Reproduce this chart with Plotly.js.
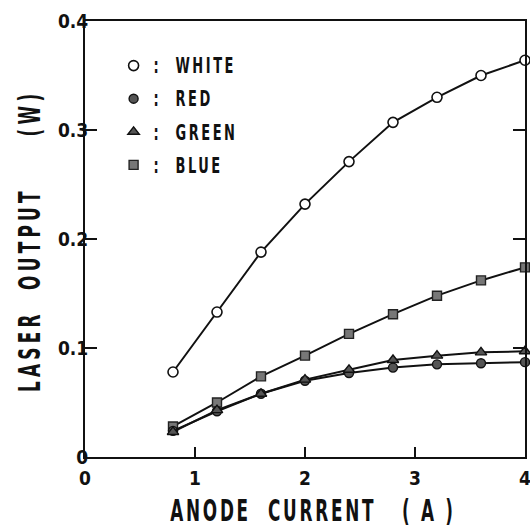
<!DOCTYPE html>
<html>
<head>
<meta charset="utf-8">
<script src="https://cdn.plot.ly/plotly-3.0.1.min.js"></script>
<style>
  html, body { margin: 0; padding: 0; background: #fff; }
  #chart { width: 530px; height: 528px; }
  .xtitle { letter-spacing: 3.5px; transform-box: fill-box; transform-origin: center; transform: translate(8px, 1px) scale(0.78, 1.25); }
  .ytitle { letter-spacing: 5.5px; transform-box: fill-box; transform-origin: center; transform: rotate(-90deg) translate(-10px, -1px) scale(0.78, 1.25); }
  .legendtext { letter-spacing: 3px; transform-box: fill-box; transform-origin: left center; transform: scale(0.85, 1.2); }
</style>
</head>
<body>
<div id="chart"></div>
<script>
// Anode current (A)
const current = [0.8, 1.2, 1.6, 2.0, 2.4, 2.8, 3.2, 3.6, 4.0];
// Laser output (W)
const whiteOut = [0.078, 0.133, 0.188, 0.232, 0.271, 0.307, 0.330, 0.350, 0.364];
const redOut   = [0.024, 0.042, 0.058, 0.070, 0.077, 0.082, 0.085, 0.086, 0.087];
const greenOut = [0.023, 0.043, 0.058, 0.071, 0.080, 0.089, 0.093, 0.096, 0.097];
const blueOut  = [0.028, 0.050, 0.074, 0.093, 0.113, 0.131, 0.148, 0.162, 0.174];
const seriesNames = [':  WHITE', ':  RED', ':  GREEN', ':  BLUE'];
const xTicks = [0, 1, 2, 3, 4];
const yTicks = [0, 0.1, 0.2, 0.3, 0.4];
const yTickText = ['0', '0.1', '0.2', '0.3', '0.4'];

const FONT = '"DejaVu Sans Condensed", "DejaVu Sans", sans-serif';

const styles = [
  {symbol: 'circle', size: 10, color: '#ffffff', line: {color: '#111', width: 1.6}},
  {symbol: 'circle', size: 9, color: '#555555', line: {color: '#111', width: 1.4}},
  {symbol: 'triangle-up', size: 10, color: '#555555', line: {color: '#111', width: 1.4}},
  {symbol: 'square', size: 9, color: '#777777', line: {color: '#222', width: 1.4}}
];
const dataSets = [whiteOut, redOut, greenOut, blueOut];

const traces = [];
[3, 1, 2, 0].forEach(i => {
  traces.push({
    x: current, y: dataSets[i], type: 'scatter', mode: 'lines+markers',
    line: {color: '#111', width: 2},
    marker: styles[i], showlegend: false, cliponaxis: false, hoverinfo: 'skip'
  });
});
seriesNames.forEach((nm, i) => {
  traces.push({
    x: [null], y: [null], type: 'scatter', mode: 'markers', name: nm,
    legendgroup: 'g' + i, marker: styles[i], showlegend: true
  });
});

const layout = {
  width: 530, height: 528,
  margin: {l: 85, r: 5, t: 21, b: 71},
  paper_bgcolor: '#fff', plot_bgcolor: '#fff',
  font: {family: FONT, color: '#111', size: 18, weight: 'bold'},
  showlegend: true,
  legend: {
    x: 0.065, y: 0.938, xanchor: 'left', yanchor: 'top',
    bgcolor: 'rgba(0,0,0,0)', borderwidth: 0,
    font: {family: FONT, size: 17, color: '#111', weight: 'bold'},
    tracegroupgap: 8, traceorder: 'grouped'
  },
  xaxis: {
    range: [0, 4], tickvals: xTicks, ticktext: xTicks.map(String),
    ticks: 'inside', ticklen: 10, tickwidth: 1.5, tickcolor: '#111',
    showline: true, linewidth: 2, linecolor: '#111', mirror: true,
    showgrid: false, zeroline: false, ticklabelstandoff: 3,
    ticklabeloverflow: 'allow',
    tickfont: {family: FONT, size: 19, weight: 'bold', color: '#111'},
    title: {text: 'ANODE  CURRENT   ( A )', standoff: 14,
            font: {family: FONT, size: 24, color: '#111', weight: 'bold'}},
    automargin: false, fixedrange: true
  },
  yaxis: {
    range: [0, 0.4], tickvals: yTicks, ticktext: yTickText,
    ticks: 'inside', ticklen: 12, tickwidth: 1.5, tickcolor: '#111',
    showline: true, linewidth: 2, linecolor: '#111', mirror: 'ticks',
    showgrid: false, zeroline: false, ticklabelstandoff: -9,
    ticklabeloverflow: 'allow',
    tickfont: {family: FONT, size: 19, weight: 'bold', color: '#111'},
    title: {text: 'LASER  OUTPUT     (W)', standoff: 20,
            font: {family: FONT, size: 24, color: '#111', weight: 'bold'}},
    automargin: false, fixedrange: true
  }
};

Plotly.newPlot('chart', traces, layout, {displayModeBar: false, staticPlot: true});
</script>
</body>
</html>
